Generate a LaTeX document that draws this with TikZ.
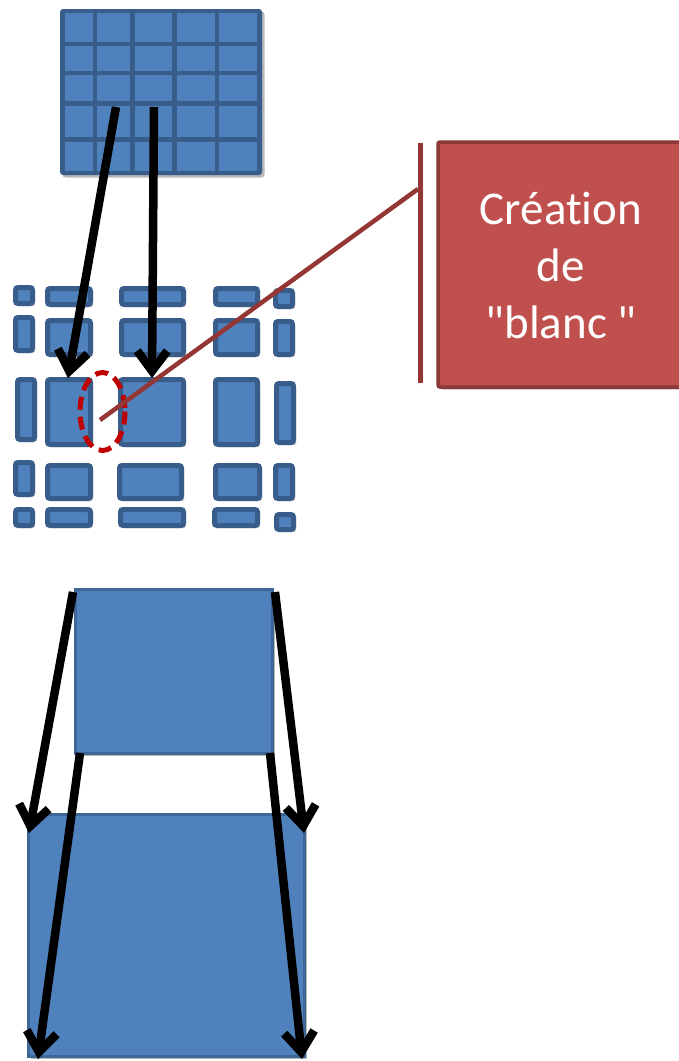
\documentclass[tikz,border=0pt]{standalone}
\usepackage{fontspec}
\newfontfamily\calib[Ligatures={NoCommon}]{Carlito}
\usetikzlibrary{arrows.meta,shadows,calc}
\definecolor{lblue}{HTML}{4F81BD}
\definecolor{dblue}{HTML}{385D8A}
\definecolor{bblue}{HTML}{3E6697}
\definecolor{rfill}{HTML}{C0504D}
\definecolor{rbord}{HTML}{8C3836}
\definecolor{rline}{HTML}{943634}
\definecolor{dred}{HTML}{C00000}
\tikzset{
  shad/.style={drop shadow={shadow xshift=2.5pt,shadow yshift=-2.5pt,opacity=0.28,fill=black}},
  mbox/.style={draw=dblue,fill=lblue,line width=5pt,rounded corners=2.5pt,shad},
  bigbox/.style={draw=bblue,fill=lblue,line width=3pt,shad},
  cell/.style={fill=lblue},
  arr/.style={line width=8.5pt,black,-{Straight Barb[length=20pt,width=30pt]}},
}
\newcommand{\mb}[4]{\draw[mbox] ({#1+2.5},{#2+2.5}) rectangle ({#3-2.5},{#4-2.5});}
\begin{document}
\begin{tikzpicture}[x=1pt,y=-1pt]
\useasboundingbox (0,0) rectangle (679,1061);
\fill[white] (0,0) rectangle (679,1061);
% top grid
\fill[dblue,rounded corners=3pt,shad] (60,9) rectangle (262,175);
\foreach \xa/\xb in {65/93,97/130,135/172,177/215,219/257}{
  \foreach \ya/\yb in {13/42,46/71,75/101,106/137,142/171}{
    \fill[cell] (\xa,\ya) rectangle (\xb,\yb);
  }
}
% middle grid
\mb{13}{285}{35}{306}\mb{45}{286}{93}{307}\mb{119}{286}{186}{307}\mb{213}{286}{260}{307}\mb{273}{288}{295}{309}
\mb{13}{315}{35}{353}\mb{45}{318}{93}{357}\mb{119}{318}{186}{357}\mb{213}{318}{260}{357}\mb{273}{319}{295}{357}
\mb{15}{377}{37}{442}\mb{45}{377}{93}{447}\mb{118}{377}{186}{447}\mb{213}{377}{260}{447}\mb{274}{381}{296}{445}
\mb{13}{460}{35}{497}\mb{45}{463}{93}{501}\mb{117}{463}{184}{501}\mb{213}{463}{262}{501}\mb{273}{463}{295}{501}
\mb{13}{507}{35}{528}\mb{45}{507}{93}{528}\mb{118}{507}{186}{528}\mb{212}{507}{260}{528}\mb{274}{512}{296}{532}
% bottom boxes
\draw[bigbox] (75,589) rectangle (272,753);
\draw[bigbox] (28,814) rectangle (304,1056);
% arrow coordinates
\coordinate (a1s) at (116,107); \coordinate (a1e) at (68,378);
\coordinate (a2s) at (154,107); \coordinate (a2e) at (152,378);
\coordinate (b1s) at (73,592);  \coordinate (b1e) at (29,833);
\coordinate (b2s) at (275,592); \coordinate (b2e) at (304,833);
\coordinate (b3s) at (80,753);  \coordinate (b3e) at (38,1059);
\coordinate (b4s) at (270,753); \coordinate (b4e) at (302,1059);
\draw[arr] (a1s) -- (a1e);
\draw[arr] (a2s) -- (a2e);
\draw[arr] (b1s) -- (b1e);
\draw[arr] (b2s) -- (b2e);
\draw[arr] (b3s) -- (b3e);
\draw[arr] (b4s) -- (b4e);
% ellipse
\draw[dred,line width=5pt,dash pattern=on 13pt off 7pt] (102.5,411.5) ellipse [x radius=22.5,y radius=39];
% callout
\node[draw=rbord,fill=rfill,line width=3.5pt,rounded corners=2pt,minimum width=246pt,minimum height=245pt,shad,inner sep=0pt] (box) at (561,264.5) {};
\node[text=white,align=center,font=\calib\fontsize{47pt}{57pt}\selectfont] (txt) at ([yshift=-1pt]box.center) {Création\\de\\"blanc "};
\coordinate (bt) at (420.7,143);
\coordinate (bb) at (420.7,383);
\coordinate (cj) at (418,189);
\coordinate (ctr) at (100,420);
\draw[rline,line width=4.5pt,shad] (bt) -- (bb);
\draw[rline,line width=4.5pt] (ctr) -- (cj);
\end{tikzpicture}
\end{document}
